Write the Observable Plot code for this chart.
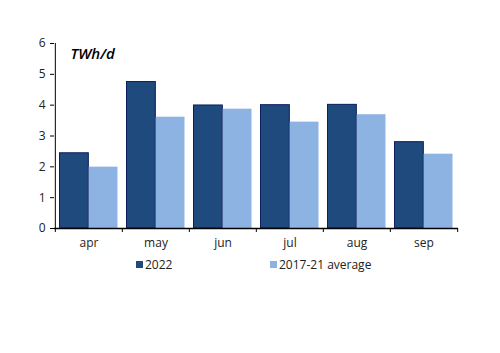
<!DOCTYPE html>
<html><head><meta charset="utf-8">
<script src="https://cdn.jsdelivr.net/npm/d3@7"></script>
<script src="https://cdn.jsdelivr.net/npm/@observablehq/plot@0.6"></script>
<style>
body{margin:0;background:#fff;font-family:"Open Sans",sans-serif;}
#wrap{position:relative;width:500px;height:353px;}
.leg{position:absolute;top:256px;font-size:12px;color:#222;display:flex;align-items:center;}
.sw{display:inline-block;width:7px;height:7px;margin-right:2px;}
</style></head>
<body><div id="wrap"></div>
<script>
const months = ["apr","may","jun","jul","aug","sep"];
const series = ["2022","2017-21 average"];
const values2022 = [2.44, 4.75, 3.99, 4.0, 4.01, 2.8];
const valuesAvg = [1.99, 3.61, 3.87, 3.45, 3.69, 2.41];
const yTicks = [0,1,2,3,4,5,6];
const colors = ["#1f4a7e", "#8db3e2"];

const data = months.flatMap((m,i)=>[
  {month:m, series:series[0], value:values2022[i]},
  {month:m, series:series[1], value:valuesAvg[i]}
]);

const W=500, ML=54, MR=42;
const bw=(W-ML-MR)/months.length;
const half=bw/2, gap=4.5;

const chart = Plot.plot({
  width: W, height: 250,
  marginTop: 43, marginBottom: 22, marginLeft: ML, marginRight: MR,
  style: {fontFamily: "Open Sans, sans-serif", fontSize: "12px", color: "#222"},
  x: {domain: months, padding: 0, label: null},
  y: {domain: [0,6], label: null},
  marks: [
    Plot.barY(data.filter(d=>d.series===series[0]), {x:"month", y:"value", fill:colors[0], stroke:"#0b1f5e", strokeWidth:1, insetLeft:gap, insetRight:half}),
    Plot.barY(data.filter(d=>d.series===series[1]), {x:"month", y:"value", fill:colors[1], insetLeft:half, insetRight:gap}),
    Plot.axisY({ticks: yTicks, tickFormat: "d", tickSize: 4, tickPadding: 5, stroke:"#000"}),
    Plot.axisX({tickSize: 0, tickPadding: 10}),
    Plot.axisX({tickSize: 4, dx: -half, text: null, stroke:"#000"}),
    Plot.axisX({ticks: [months[months.length-1]], tickSize: 4, dx: half, text: null, stroke:"#000"}),
    Plot.ruleX([months[0]], {y1: 0, y2: 6, dx: -half, stroke:"#000"}),
    Plot.ruleY([0], {stroke:"#000", strokeWidth:1.5}),
    Plot.text(["TWh/d"], {frameAnchor:"top-left", dx:16, dy:5, lineAnchor:"top", textAnchor:"start", fontSize:15, fontWeight:600, fontStyle:"italic", fill:"#000"})
  ]
});
const wrap = document.getElementById("wrap");
wrap.appendChild(chart);
const legPos = [136, 270];
series.forEach((s,i)=>{
  const d=document.createElement("div");
  d.className="leg"; d.style.left=legPos[i]+"px";
  d.innerHTML=`<span class="sw" style="background:${colors[i]}"></span>${s}`;
  wrap.appendChild(d);
});
</script></body></html>
